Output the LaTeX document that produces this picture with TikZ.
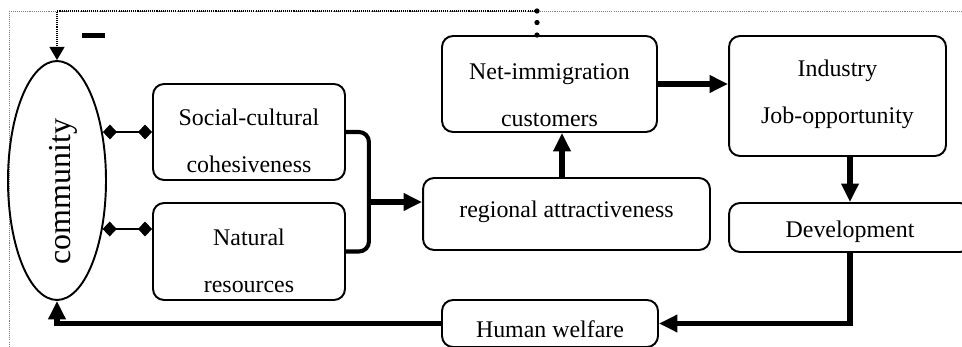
\documentclass[tikz,border=0pt]{standalone}
\usepackage{fontspec}
\setmainfont{Liberation Serif}
\usetikzlibrary{arrows.meta,calc,shapes.geometric}
\begin{document}
\begin{tikzpicture}[x=0.02cm,y=-0.02cm,
  box/.style={draw,line width=1.1pt,rounded corners=0.22cm,inner sep=0pt},
  txt/.style={align=center,inner sep=0pt,font=\fontsize{13.6}{26.7}\selectfont},
  thick arrow/.style={line width=3.3pt,-{Triangle[length=10.5pt,width=9.5pt]}},
  diam/.style={line width=0.8pt,{Diamond[length=8pt,width=8.5pt]}-{Diamond[length=8pt,width=8.5pt]}},
  bigdots/.style={line width=3pt,line cap=round,dash pattern=on 0pt off 7.1pt},
  finedots/.style={line width=1pt,dash pattern=on 0.6pt off 0.6pt}]
\useasboundingbox (0,0) rectangle (962,347);
\clip (0,0) rectangle (962,347);
% frame
\draw[gray,line width=0.5pt,dash pattern=on 0.6pt off 0.6pt] (9,370) -- (9,11) -- (980,11);
% nodes
\node[draw,ellipse,line width=1.1pt,inner sep=0pt,minimum width=1.96cm,minimum height=4.78cm] (comm) at (57,180.5) {};
\node[txt,rotate=90,font=\fontsize{18.2}{22}\selectfont] (comm-t) at (63,191.5) {community};
\node[box,minimum width=3.84cm,minimum height=1.92cm] (social) at (249,132) {};
\node[txt] (social-t) at (249,141) {Social-cultural\\cohesiveness};
\node[box,minimum width=3.84cm,minimum height=1.94cm] (natural) at (249,251.5) {};
\node[txt] (natural-t) at (249,261) {Natural\\resources};
\node[box,minimum width=5.74cm,minimum height=1.44cm] (regional) at (566.5,214) {};
\node[txt] (regional-t) at (566.5,212) {regional attractiveness};
\node[box,minimum width=4.30cm,minimum height=1.92cm] (net) at (549.5,84) {};
\node[txt] (net-t) at (549.5,95) {Net-immigration\\customers};
\node[box,minimum width=4.34cm,minimum height=2.40cm] (industry) at (837.5,96) {};
\node[txt] (industry-t) at (837.5,94) {Industry\\Job-opportunity};
\node[box,minimum width=4.84cm,minimum height=0.98cm] (dev) at (850,227.5) {};
\node[txt] (dev-t) at (850,232) {Development};
\node[box,minimum width=4.32cm,minimum height=0.94cm] (hw) at (550,323.5) {};
\node[txt] (hw-t) at (550,329) {Human welfare};
\node[fill=black,inner sep=0pt,minimum width=0.46cm,minimum height=0.11cm] (minus) at (93.5,35.5) {};
% diamond links
\draw[diam] (social.west -| comm.46) -- (social.west);
\coordinate (nd) at ($(natural.west)+(0,-22.5)$);
\draw[diam] (nd -| comm.-47) -- (nd);
% bracket
\coordinate (bx) at ($(social.east)+(23,0)$);
\draw[line width=2.3pt,rounded corners=0.2cm] (social.east) -- (bx) -- (bx |- natural.east) -- (natural.east);
\coordinate (bm) at ($(bx)+(0,70)$);
\draw[thick arrow] (bm) -- (bm -| regional.west);
% main flow
\coordinate (ru) at ($(regional.north)+(-4.5,0)$);
\draw[thick arrow] (ru) -- (ru |- net.south);
\draw[thick arrow] (net.east) -- (net.east -| industry.west);
\coordinate (iu) at ($(industry.south)+(12.5,0)$);
\draw[thick arrow] (iu) -- (dev.north);
\draw[thick arrow] (dev.south) -- (dev.south |- hw.east) -- (hw.east);
\draw[thick arrow] (hw.west) -- (hw.west -| comm.south) -- (comm.south);
% negative feedback
\coordinate (nt) at ($(net.north)+(-12.5,0)$);
\coordinate (top) at (nt |- 0,11);
\draw[bigdots] (nt) -- (top);
\fill (top) circle (1.5pt);
\draw[finedots,-{Triangle[length=7.5pt,width=8.5pt]}] (top) -- (top -| comm.north) -- (comm.north);
\end{tikzpicture}
\end{document}
